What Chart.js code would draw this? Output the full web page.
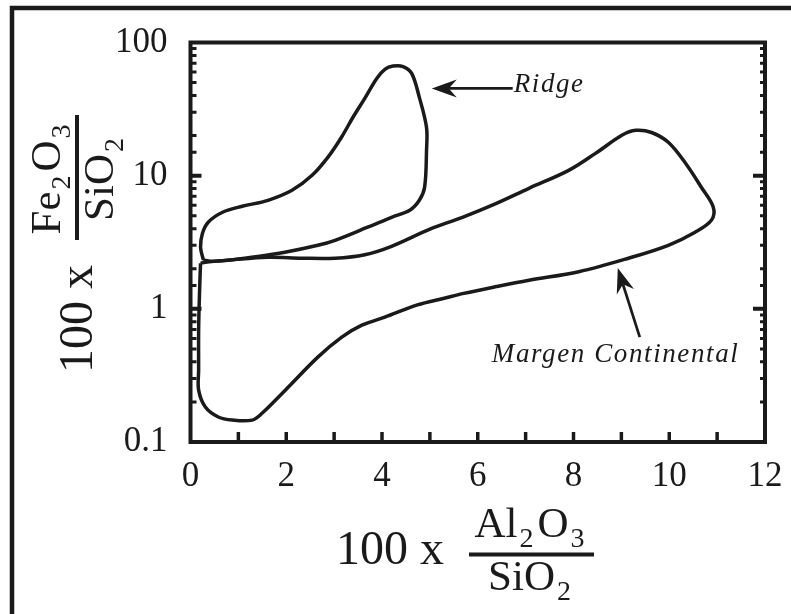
<!DOCTYPE html>
<html>
<head>
<meta charset="utf-8">
<script src="https://cdn.jsdelivr.net/npm/chart.js@4.4.0/dist/chart.umd.min.js"></script>
<style>
  html, body { margin: 0; padding: 0; background: #fff; }
  canvas { display: block; }
</style>
</head>
<body>
<canvas id="ratioChart" width="791" height="614"></canvas>
<script>
// Ridge field outline (closed loop), 100 x Al2O3/SiO2 against 100 x Fe2O3/SiO2
const ridgeX = [0.27, 0.21, 0.25, 0.37, 0.67, 1.08, 1.62, 2.12, 2.54, 2.88, 3.16, 3.40, 3.64, 3.89,
  4.06, 4.23, 4.44, 4.62, 4.78, 4.93, 4.93, 4.89, 4.78, 4.58, 4.20, 3.70, 3.02, 2.66, 1.97, 1.28, 0.78, 0.42, 0.27];
const ridgeY = [2.32, 2.90, 3.69, 4.47, 5.31, 5.89, 6.53, 7.76, 10.06, 13.9, 19.6, 27.7, 38.0, 53.7,
  62.8, 66.5, 66.0, 58.6, 38.7, 23.0, 15.5, 8.18, 6.53, 5.50, 4.87, 4.10, 3.27, 3.00, 2.66, 2.44, 2.32, 2.28, 2.32];

// Continental margin field outline (closed loop)
const marginX = [0.21, 0.19, 0.17, 0.17, 0.17, 0.31, 0.58, 0.87, 1.29, 1.50, 1.98, 2.66, 3.16, 3.58,
  4.06, 4.74, 5.30, 5.68, 6.39, 7.07, 8.11, 9.15, 9.98, 10.54, 10.88, 10.92, 10.67, 10.34, 9.98, 9.63,
  9.30, 9.01, 8.46, 7.90, 7.07, 6.39, 5.68, 4.99, 4.20, 3.64, 3.02, 2.33, 1.62, 0.79, 0.31, 0.21];
const marginY = [2.20, 1.38, 0.69, 0.347, 0.245, 0.183, 0.154, 0.146, 0.146, 0.165, 0.245, 0.434, 0.613, 0.754,
  0.866, 1.07, 1.20, 1.30, 1.47, 1.64, 1.90, 2.40, 3.00, 3.76, 4.62, 5.79, 8.18, 12.4, 17.8, 21.1,
  21.9, 20.1, 14.7, 10.96, 8.04, 6.20, 4.87, 3.95, 2.95, 2.55, 2.40, 2.40, 2.44, 2.32, 2.24, 2.20];

const xTickLabels = [0, 2, 4, 6, 8, 10, 12];
const yTickLabels = [0.1, 1, 10, 100];

const ink = '#1a1a1a';
const serif = '"Liberation Serif", "Times New Roman", Times, serif';

const toPoints = (xs, ys) => xs.map((x, i) => ({ x: x, y: ys[i] }));
const labelFor = (list, v) => list.find(t => Math.abs(t - v) < t * 1e-6 + 1e-9);

// Chemical formula with subscripts, centred on cx
function drawChem(ctx, parts, cx, baseline) {
  const fontOf = sub => (sub ? '28px ' : '43px ') + serif;
  let w = 0;
  parts.forEach(([t, sub]) => { ctx.font = fontOf(sub); w += ctx.measureText(t).width + (sub ? 4 : 2); });
  let x = cx - w / 2;
  parts.forEach(([t, sub]) => {
    ctx.font = fontOf(sub);
    ctx.fillText(t, x, baseline + (sub ? 10 : 0));
    x += ctx.measureText(t).width + (sub ? 4 : 2);
  });
}

// "100 x" followed by a stacked fraction; origin is the start of "100 x" on its baseline
function drawRatioTitle(ctx, num, den, barOffset) {
  ctx.textAlign = 'left';
  ctx.textBaseline = 'alphabetic';
  ctx.font = '48px ' + serif;
  ctx.fillText('100 x', 0, 0);
  const barStart = 133, barEnd = 258;
  ctx.fillRect(barStart, barOffset - 2, barEnd - barStart, 4);
  const cx = (barStart + barEnd) / 2;
  drawChem(ctx, num, cx, barOffset - 17.5);
  drawChem(ctx, den, cx, barOffset + 35.5);
}

function arrow(ctx, tip, tail) {
  const dx = tail.x - tip.x, dy = tail.y - tip.y;
  const len = Math.hypot(dx, dy);
  const ux = dx / len, uy = dy / len, px = -uy, py = ux;
  const headLen = 25, half = 9, notch = 17;
  ctx.lineWidth = 2.7;
  ctx.beginPath();
  ctx.moveTo(tip.x + ux * notch, tip.y + uy * notch);
  ctx.lineTo(tail.x, tail.y);
  ctx.stroke();
  ctx.beginPath();
  ctx.moveTo(tip.x, tip.y);
  ctx.lineTo(tip.x + ux * headLen + px * half, tip.y + uy * headLen + py * half);
  ctx.lineTo(tip.x + ux * notch, tip.y + uy * notch);
  ctx.lineTo(tip.x + ux * headLen - px * half, tip.y + uy * headLen - py * half);
  ctx.closePath();
  ctx.fill();
}

const framePlugin = {
  id: 'frame',
  afterDraw(chart) {
    const { ctx, chartArea: a, scales: { x, y } } = chart;
    ctx.save();
    ctx.strokeStyle = ink;
    ctx.fillStyle = ink;

    // outer border of the figure
    ctx.lineWidth = 4.5;
    ctx.strokeRect(12, 8, 900, 900);

    // plot frame
    ctx.lineWidth = 4;
    ctx.strokeRect(a.left, a.top, a.right - a.left, a.bottom - a.top);

    // inward ticks on the bottom axis
    ctx.lineWidth = 3.5;
    x.ticks.forEach(t => {
      if (t.value <= x.min || t.value >= x.max) return;
      const px = x.getPixelForValue(t.value);
      ctx.beginPath();
      ctx.moveTo(px, a.bottom);
      ctx.lineTo(px, a.bottom - 10);
      ctx.stroke();
    });

    // inward ticks on both vertical sides, long at each decade
    y.ticks.forEach(t => {
      if (t.value <= y.min * 1.0001 || t.value >= y.max * 0.9999) return;
      const py = y.getPixelForValue(t.value);
      const major = labelFor(yTickLabels, t.value) !== undefined;
      ctx.lineWidth = major ? 4 : 3;
      ctx.beginPath();
      ctx.moveTo(a.left, py);
      ctx.lineTo(a.left + (major ? 11 : 6), py);
      ctx.moveTo(a.right, py);
      ctx.lineTo(a.right - (major ? 12 : 5), py);
      ctx.stroke();
    });

    // axis titles
    ctx.save();
    ctx.translate(336, 564);
    drawRatioTitle(ctx, [['Al', 0], ['2', 1], ['O', 0], ['3', 1]], [['SiO', 0], ['2', 1]], -9.5);
    ctx.restore();

    ctx.save();
    ctx.translate(92, 373);
    ctx.rotate(-Math.PI / 2);
    drawRatioTitle(ctx, [['Fe', 0], ['2', 1], ['O', 0], ['3', 1]], [['SiO', 0], ['2', 1]], -15);
    ctx.restore();

    // field labels with arrows
    const at = (vx, vy) => ({ x: x.getPixelForValue(vx), y: y.getPixelForValue(vy) });
    ctx.font = 'italic 27px ' + serif;
    ctx.letterSpacing = '1.6px';
    ctx.textAlign = 'left';
    ctx.textBaseline = 'alphabetic';

    const rTip = at(5.04, 45.2), rTail = at(6.73, 45.2);
    arrow(ctx, rTip, rTail);
    ctx.fillText('Ridge', rTail.x + 1, rTail.y + 4);

    const mTip = at(8.925, 2.025), mTail = at(9.384, 0.614);
    arrow(ctx, mTip, mTail);
    const mText = at(6.294, 0.399);
    ctx.fillText('Margen Continental', mText.x, mText.y);
    ctx.restore();
  }
};

const ctx = document.getElementById('ratioChart').getContext('2d');
const lineStyle = {
  showLine: true,
  borderColor: ink,
  borderWidth: 3.5,
  pointRadius: 0,
  tension: 0.35,
  fill: false
};

new Chart(ctx, {
  type: 'scatter',
  data: {
    datasets: [
      Object.assign({ label: 'Ridge', data: toPoints(ridgeX, ridgeY) }, lineStyle),
      Object.assign({ label: 'Margen Continental', data: toPoints(marginX, marginY) }, lineStyle)
    ]
  },
  options: {
    responsive: false,
    animation: false,
    events: [],
    layout: { padding: { top: 42.5, right: 26, left: 0, bottom: 0 } },
    plugins: { legend: { display: false }, tooltip: { enabled: false } },
    scales: {
      x: {
        type: 'linear',
        min: 0,
        max: 12,
        grid: { display: false },
        border: { display: false },
        afterFit: s => { s.height = 172; },
        ticks: {
          stepSize: 1,
          autoSkip: false,
          maxRotation: 0,
          padding: 6,
          color: ink,
          font: { family: serif, size: 35 },
          callback: v => (labelFor(xTickLabels, v) !== undefined ? String(v) : '')
        }
      },
      y: {
        type: 'logarithmic',
        min: 0.1,
        max: 100,
        grid: { display: false },
        border: { display: false },
        afterFit: s => { s.width = 190.5; },
        ticks: {
          autoSkip: false,
          padding: 15,
          color: ink,
          font: { family: serif, size: 35 },
          callback: v => {
            const hit = labelFor(yTickLabels, v);
            return hit !== undefined ? String(hit) : '';
          }
        }
      }
    }
  },
  plugins: [framePlugin]
});
</script>
</body>
</html>
